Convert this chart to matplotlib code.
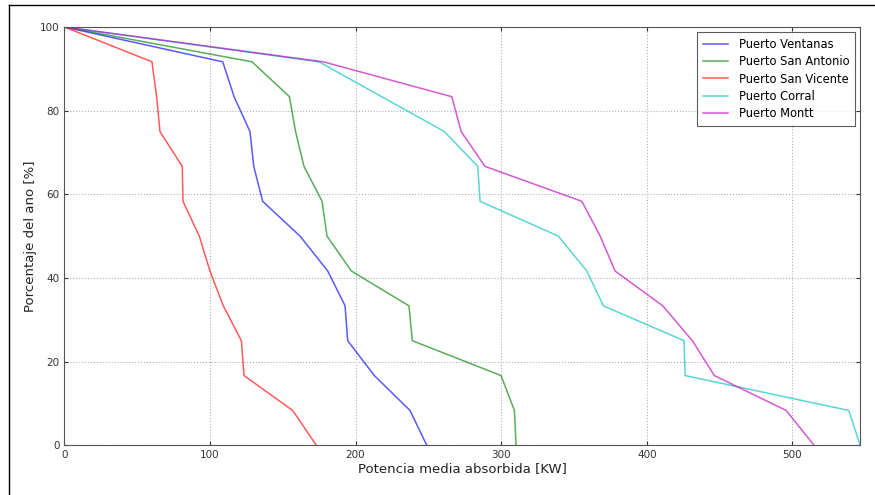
import matplotlib
matplotlib.use("Agg")
import matplotlib.pyplot as plt
from matplotlib.lines import Line2D

pct = [100, 91.67, 83.33, 75, 66.67, 58.33, 50, 41.67, 33.33, 25, 16.67, 8.33, 0]

ventanas = [0, 108.8, 116.6, 127.5, 130.1, 136.2, 161.9, 180.9, 192.8, 194.6, 212.9, 237.4, 248.9]
san_antonio = [0, 128.9, 154.6, 158.8, 164.6, 177.0, 180.4, 197.1, 236.7, 239.0, 299.9, 309.1, 310.2]
san_vicente = [0, 60.2, 63.4, 65.7, 81.0, 81.5, 92.7, 100.0, 109.2, 121.6, 123.4, 156.8, 173.1]
corral = [0, 174.9, 218.0, 261.0, 283.9, 285.5, 339.3, 358.8, 370.2, 425.6, 426.3, 538.7, 546.5]
montt = [0, 177.9, 266.1, 272.5, 288.9, 355.4, 368.0, 378.2, 411.0, 431.3, 446.4, 495.7, 514.9]

names = ["Puerto Ventanas", "Puerto San Antonio", "Puerto San Vicente", "Puerto Corral", "Puerto Montt"]
series = [ventanas, san_antonio, san_vicente, corral, montt]
colors = ["#0000ff", "#008000", "#ff0000", "#00bfbf", "#bf00bf"]

fig = plt.figure(figsize=(8.75, 4.95), dpi=100)
ax = fig.add_axes([0.0735, 0.1004, 0.9095, 0.8451])

for name, vals, c in zip(names, series, colors):
    ax.plot(vals, pct, color=c, alpha=0.65, lw=1.1, label=name)

ax.set_xlim(0, max(corral))
ax.set_ylim(0, 100)
ax.set_xticks([0, 100, 200, 300, 400, 500])
ax.set_yticks([0, 20, 40, 60, 80, 100])
ax.grid(True, color="#b0b0b0", linestyle=":", linewidth=0.8)
ax.tick_params(labelsize=7.5, colors="#333333", length=3, direction="in", top=True, right=True)
for s in ax.spines.values():
    s.set_color("#555555")
ax.set_xlabel("Potencia media absorbida [KW]", fontsize=9.5, labelpad=1, color="#222222")
ax.set_ylabel("Porcentaje del ano [%]", fontsize=9.5, labelpad=2, color="#222222")

leg = ax.legend(loc="upper right", fontsize=8.3, frameon=True, fancybox=False,
                borderpad=0.5, labelspacing=0.38, handlelength=2.2, handletextpad=0.9,
                borderaxespad=0, bbox_to_anchor=(0.9937, 0.988))
leg.get_frame().set_edgecolor("#333333")
leg.get_frame().set_linewidth(0.8)

fig.add_artist(Line2D([9/875, 9/875], [0, 1 - 5/495], transform=fig.transFigure, color="black", lw=1))
fig.add_artist(Line2D([9/875, 1], [1 - 5/495, 1 - 5/495], transform=fig.transFigure, color="black", lw=1))

fig.savefig("out.png", dpi=100)
